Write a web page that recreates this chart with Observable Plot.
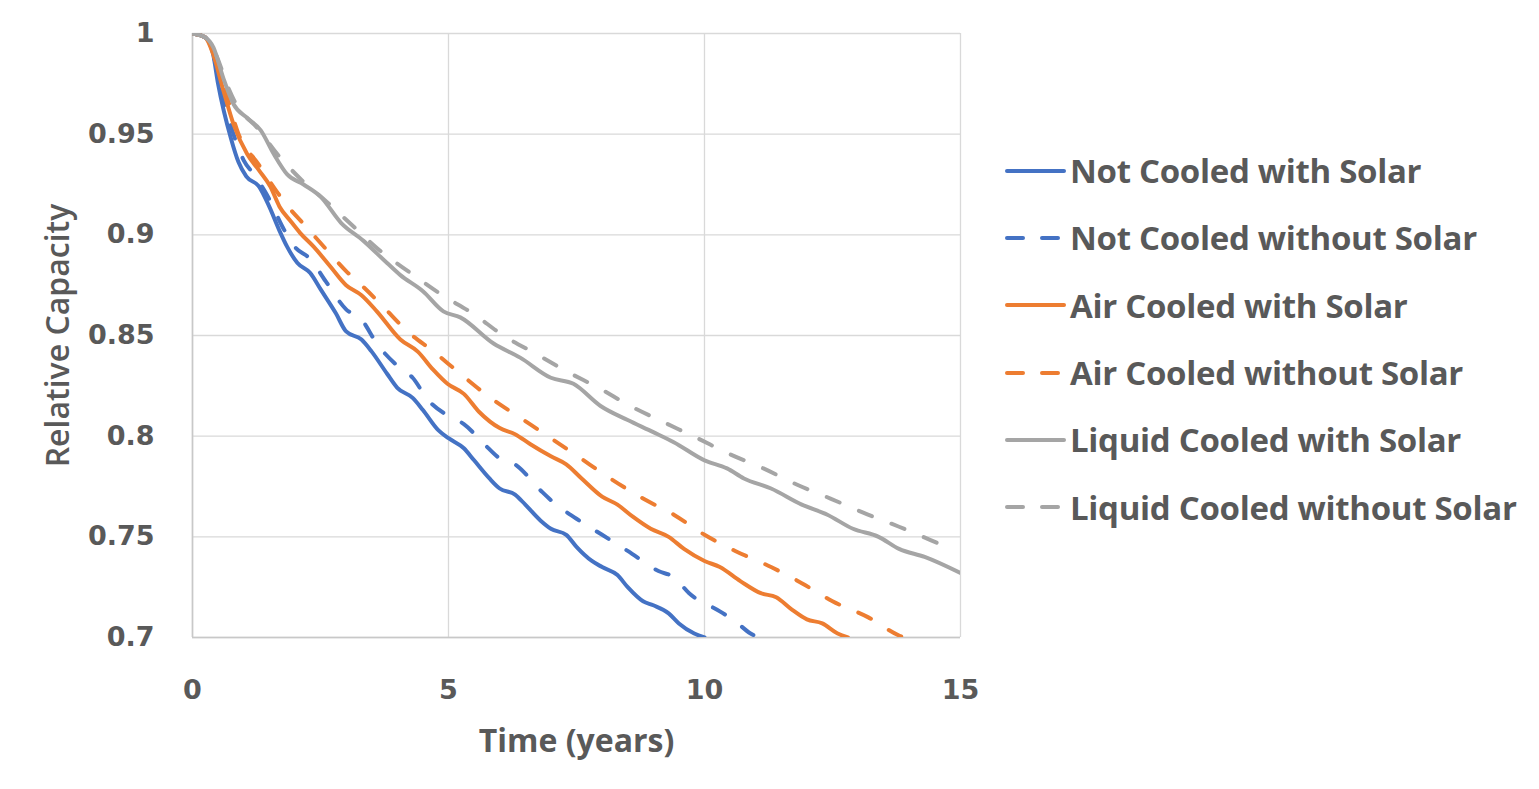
<!DOCTYPE html>
<html>
<head>
<meta charset="utf-8">
<script src="https://cdn.jsdelivr.net/npm/d3@7"></script>
<script src="https://cdn.jsdelivr.net/npm/@observablehq/plot@0.6"></script>
<style>
  html, body { margin: 0; padding: 0; background: #fff; }
  #wrap { position: relative; width: 1539px; height: 789px; overflow: hidden; }
  #chart { position: absolute; left: 0; top: 0; }
  #legend { position: absolute; left: 1004px; top: 137px; }
  .row { display: flex; align-items: center; height: 67.3px; }
  .row svg { display: block; margin-right: 3px; }
  .row span { font-family: "Open Sans", sans-serif; font-weight: 700; font-size: 33px; color: #595959; white-space: nowrap; letter-spacing: -0.3px; }
</style>
</head>
<body>
<div id="wrap"><div id="chart"></div><div id="legend"></div></div>
<script>
// ---- Data ----
const seriesNames = [
  "Not Cooled with Solar",
  "Not Cooled without Solar",
  "Air Cooled with Solar",
  "Air Cooled without Solar",
  "Liquid Cooled with Solar",
  "Liquid Cooled without Solar"
];
const seriesColors = ["#4472c4", "#4472c4", "#ed7d31", "#ed7d31", "#a5a5a5", "#a5a5a5"];
const seriesDashed = [false, true, false, true, false, true];

const xTicks = [0, 5, 10, 15];
const yTicks = [0.7, 0.75, 0.8, 0.85, 0.9, 0.95, 1];

// [years, relative capacity]
const notCooledSolar = [[0,1],[0.25,0.998],[0.4,0.99],[0.5,0.975],[0.75,0.948],[0.9,0.936],[1.05,0.929],[1.3,0.924],[1.5,0.914],[1.7,0.902],[1.85,0.894],[2.05,0.886],[2.3,0.881],[2.5,0.873],[2.8,0.861],[3.0,0.852],[3.3,0.848],[3.5,0.842],[3.8,0.831],[4.0,0.824],[4.3,0.819],[4.5,0.813],[4.8,0.803],[5.0,0.799],[5.3,0.794],[5.5,0.788],[5.8,0.779],[6.0,0.774],[6.3,0.771],[6.5,0.766],[6.8,0.758],[7.0,0.754],[7.3,0.751],[7.5,0.745],[7.8,0.738],[8.0,0.735],[8.3,0.731],[8.5,0.725],[8.8,0.718],[9.0,0.716],[9.3,0.712],[9.5,0.707],[9.8,0.702],[10.0,0.70]];
const notCooledNoSolar = [[0,1],[0.25,0.998],[0.4,0.99],[0.6,0.968],[0.8,0.95],[1.0,0.937],[1.2,0.93],[1.45,0.92],[1.8,0.902],[2.0,0.894],[2.3,0.888],[2.6,0.877],[3.0,0.863],[3.3,0.858],[3.6,0.846],[4.0,0.835],[4.3,0.829],[4.6,0.818],[5.0,0.81],[5.3,0.806],[5.7,0.796],[6.0,0.789],[6.3,0.786],[6.8,0.773],[7.1,0.766],[7.5,0.759],[8.0,0.751],[8.5,0.743],[9.1,0.733],[9.4,0.73],[9.7,0.722],[10.3,0.713],[10.6,0.708],[10.9,0.702],[11.05,0.70]];
const airCooledSolar = [[0,1],[0.25,0.998],[0.4,0.99],[0.6,0.972],[0.8,0.955],[1.07,0.94],[1.3,0.932],[1.52,0.924],[1.7,0.914],[1.91,0.907],[2.1,0.901],[2.37,0.894],[2.7,0.884],[3.0,0.875],[3.3,0.87],[3.6,0.862],[4.06,0.848],[4.4,0.842],[4.7,0.833],[4.98,0.826],[5.3,0.821],[5.6,0.812],[6.0,0.804],[6.3,0.801],[6.6,0.796],[7.0,0.79],[7.3,0.786],[7.6,0.779],[8.0,0.77],[8.3,0.766],[8.6,0.76],[8.95,0.754],[9.3,0.75],[9.6,0.744],[10.0,0.738],[10.3,0.735],[10.7,0.728],[11.1,0.722],[11.4,0.72],[11.7,0.714],[12.0,0.709],[12.3,0.707],[12.6,0.702],[12.8,0.70]];
const airCooledNoSolar = [[0,1],[0.25,0.998],[0.4,0.99],[0.6,0.975],[0.9,0.95],[1.29,0.935],[1.66,0.921],[1.9,0.913],[2.15,0.906],[2.64,0.892],[3.0,0.882],[3.3,0.875],[3.7,0.865],[4.2,0.852],[4.71,0.842],[5.23,0.831],[5.82,0.819],[6.41,0.809],[7.0,0.799],[7.58,0.789],[8.16,0.779],[8.8,0.769],[9.4,0.761],[10.0,0.751],[10.6,0.743],[11.3,0.735],[11.9,0.727],[12.5,0.718],[13.2,0.71],[13.8,0.701],[13.9,0.70]];
const liquidCooledSolar = [[0,1],[0.25,0.998],[0.41,0.993],[0.6,0.978],[0.8,0.965],[1.07,0.958],[1.33,0.952],[1.59,0.94],[1.85,0.93],[2.17,0.925],[2.5,0.919],[2.9,0.906],[3.34,0.897],[3.8,0.886],[4.06,0.88],[4.5,0.872],[4.9,0.862],[5.23,0.859],[5.88,0.846],[6.4,0.839],[7.0,0.829],[7.44,0.826],[7.97,0.815],[8.5,0.808],[9.0,0.802],[9.4,0.797],[10.0,0.788],[10.44,0.784],[10.77,0.779],[11.3,0.774],[11.9,0.766],[12.4,0.761],[12.9,0.754],[13.4,0.75],[13.8,0.744],[14.3,0.74],[15.0,0.732]];
const liquidCooledNoSolar = [[0,1],[0.25,0.998],[0.45,0.99],[0.7,0.973],[0.85,0.965],[1.27,0.953],[1.66,0.94],[2.1,0.928],[2.64,0.916],[3.15,0.904],[3.67,0.892],[4.26,0.881],[4.88,0.87],[5.47,0.861],[6.07,0.85],[6.7,0.841],[7.32,0.832],[7.93,0.824],[8.55,0.815],[9.2,0.807],[9.86,0.799],[10.5,0.791],[11.15,0.784],[11.8,0.776],[12.46,0.769],[13.1,0.762],[13.8,0.755],[14.45,0.748],[14.9,0.743]];

const seriesData = [notCooledSolar, notCooledNoSolar, airCooledSolar, airCooledNoSolar, liquidCooledSolar, liquidCooledNoSolar];

// ---- Chart ----
const textColor = "#595959";
const tickFont = "DejaVu Sans";
const dash = "14,21";

const lineMarks = seriesData.map((pts, i) =>
  Plot.line(pts, {
    x: d => d[0], y: d => d[1],
    stroke: seriesColors[i],
    strokeWidth: 4,
    strokeLinecap: "round",
    strokeLinejoin: "round",
    strokeDasharray: seriesDashed[i] ? dash : null,
    curve: "monotone-x",
    clip: true
  })
);

const chart = Plot.plot({
  width: 1000,
  height: 789,
  marginLeft: 192,
  marginRight: 40,
  marginTop: 33,
  marginBottom: 152,
  style: { background: "transparent", color: textColor },
  x: { domain: [0, 15], ticks: xTicks },
  y: { domain: [0.7, 1], ticks: yTicks },
  marks: [
    Plot.ruleY(yTicks, { stroke: "#d9d9d9", strokeWidth: 1.3 }),
    Plot.ruleX(xTicks, { stroke: "#d9d9d9", strokeWidth: 1.3 }),
    Plot.ruleX([0], { stroke: "#c8c8c8", strokeWidth: 1.6 }),
    Plot.ruleY([0.7], { stroke: "#c8c8c8", strokeWidth: 1.6 }),
    ...lineMarks,
    Plot.axisX({ ticks: xTicks, tickSize: 0, tickPadding: 42, label: null, tickFormat: d => String(d),
      fontFamily: tickFont, fontWeight: "bold", fontSize: 27, fill: textColor }),
    Plot.axisY({ ticks: yTicks, tickSize: 0, tickPadding: 38, label: null, tickFormat: d => String(d),
      fontFamily: tickFont, fontWeight: "bold", fontSize: 27, fill: textColor }),
    Plot.text(["Time (years)"], { frameAnchor: "bottom", dy: 114, text: d => d, textAnchor: "middle",
      fontFamily: "Open Sans", fontWeight: 700, fontSize: 32, fill: textColor }),
    Plot.text(["Relative Capacity"], { frameAnchor: "left", dx: -134, rotate: -90, text: d => d, textAnchor: "middle",
      fontFamily: "Open Sans", fontWeight: 600, fontSize: 32, fill: textColor })
  ]
});
document.getElementById("chart").appendChild(chart);

// ---- Legend ----
const legend = document.getElementById("legend");
seriesNames.forEach((name, i) => {
  const row = document.createElement("div");
  row.className = "row";
  const sw = d3.create("svg").attr("width", 63).attr("height", 10);
  sw.append("line").attr("x1", 3).attr("x2", 60).attr("y1", 5).attr("y2", 5)
    .attr("stroke", seriesColors[i]).attr("stroke-width", 4).attr("stroke-linecap", "round")
    .attr("stroke-dasharray", seriesDashed[i] ? "16,19" : null);
  row.appendChild(sw.node());
  const label = document.createElement("span");
  label.textContent = name;
  row.appendChild(label);
  legend.appendChild(row);
});
</script>
</body>
</html>
